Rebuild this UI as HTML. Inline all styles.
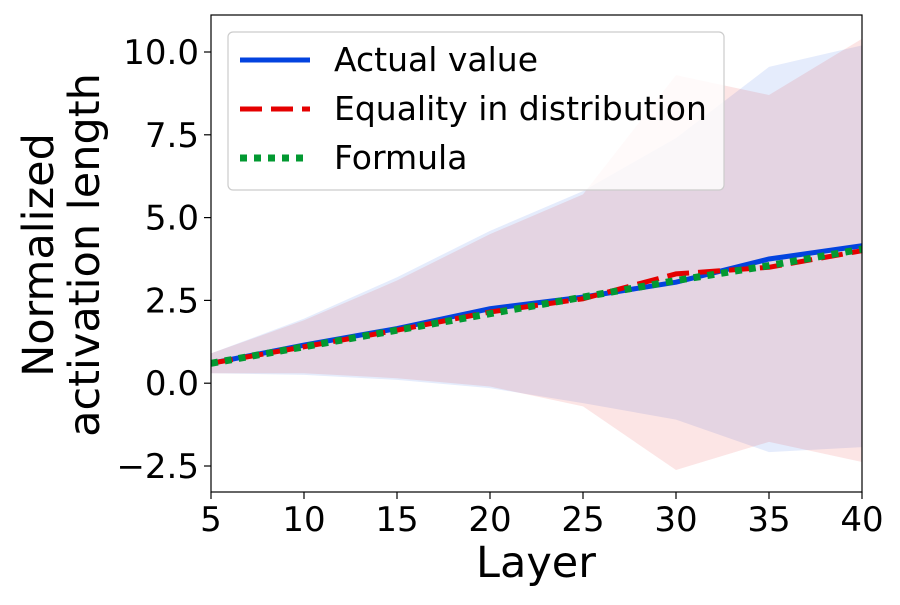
<!DOCTYPE html>
<html><head><meta charset="utf-8"><style>
body{margin:0;background:#fff;}
svg{font-family:"DejaVu Sans","Liberation Sans",sans-serif;}
</style></head><body>
<svg id="chart" width="900" height="600">
<g id="bands"></g>
<g id="lines"></g>
<rect x="211" y="15" width="651" height="477" fill="none" stroke="#000" stroke-width="1.2"/>
<g id="xt"></g>
<g id="yt"></g>
<text x="536" y="577" font-size="43" text-anchor="middle">Layer</text>
<g transform="translate(0,255) rotate(-90)">
<text x="0" y="53" font-size="43" text-anchor="middle">Normalized</text>
<text x="0" y="99" font-size="43" text-anchor="middle">activation length</text>
</g>
<g>
<rect x="228" y="32" width="496" height="158" rx="5" fill="#fff" fill-opacity="0.8" stroke="#ccc" stroke-width="1.2"/>
<g><line x1="240" y1="60" x2="310" y2="60" stroke="#0343df" stroke-width="5"/><text x="334" y="71" font-size="33">Actual value</text></g>
<g><line x1="240" y1="109" x2="310" y2="109" stroke="#e50000" stroke-width="5" stroke-dasharray="22,9"/><text x="334" y="120" font-size="33">Equality in distribution</text></g>
<g><line x1="240" y1="158" x2="310" y2="158" stroke="#029931" stroke-width="7" stroke-dasharray="7,7"/><text x="334" y="169" font-size="33">Formula</text></g>
</g>
</svg>
<script>
const layers=[5,10,15,20,25,30,35,40];
const actual=[0.6,1.15,1.65,2.25,2.6,3.05,3.75,4.15];
const actualUpper=[0.9,1.95,3.2,4.6,5.8,7.4,9.55,10.2];
const actualLower=[0.3,0.25,0.1,-0.15,-0.6,-1.1,-2.08,-1.93];
const equality=[0.6,1.1,1.6,2.15,2.55,3.3,3.5,4.0];
const equalityUpper=[0.9,1.9,3.1,4.5,5.7,9.3,8.7,10.4];
const equalityLower=[0.3,0.3,0.15,-0.1,-0.7,-2.62,-1.77,-2.38];
const formula=[0.6,1.1,1.6,2.1,2.6,3.1,3.55,4.05];
const xTicks=[5,10,15,20,25,30,35,40];
const yTicks=[-2.5,0.0,2.5,5.0,7.5,10.0];
const X=v=>211+(v-5)*651/35;
const Y=v=>383.2-v*33.12;
const NS="http://www.w3.org/2000/svg";
function mk(t,a,p){const e=document.createElementNS(NS,t);for(const k in a)e.setAttribute(k,a[k]);p.appendChild(e);return e;}
const bands=document.getElementById('bands'),lines=document.getElementById('lines');
function band(up,lo,col,name){
 const pts=layers.map((l,i)=>X(l)+','+Y(up[i])).concat(layers.map((l,i)=>X(l)+','+Y(lo[i])).reverse());
 const p=mk('polygon',{points:pts.join(' '),fill:col,'fill-opacity':0.1},bands);
 
 
}
band(actualUpper,actualLower,'#0343df','band-actual');
band(equalityUpper,equalityLower,'#e50000','band-equality');
function line(vals,col,w,dash,name){
 const p=mk('polyline',{points:layers.map((l,i)=>X(l)+','+Y(vals[i])).join(' '),fill:'none',stroke:col,'stroke-width':w,'stroke-dasharray':dash},lines);
 
 
}
line(actual,'#0343df',5,'none','line-actual');
line(equality,'#e50000',5,'22,9','line-equality');
line(formula,'#029931',7,'7,7','line-formula');
const xt=document.getElementById('xt'),yt=document.getElementById('yt');
xTicks.forEach(v=>{
 mk('line',{x1:X(v),x2:X(v),y1:492,y2:499,stroke:'#000','stroke-width':1.2},xt);
 const t=mk('text',{x:X(v),y:531,'font-size':34,'text-anchor':'middle'},xt);t.textContent=v;
 
 
});
yTicks.forEach(v=>{
 mk('line',{x1:204,x2:211,y1:Y(v),y2:Y(v),stroke:'#000','stroke-width':1.2},yt);
 const t=mk('text',{x:199,y:Y(v)+12,'font-size':34,'text-anchor':'end'},yt);t.textContent=(v<0?'\u2212':'')+Math.abs(v).toFixed(1);
 
 
});
</script>
</body></html>
